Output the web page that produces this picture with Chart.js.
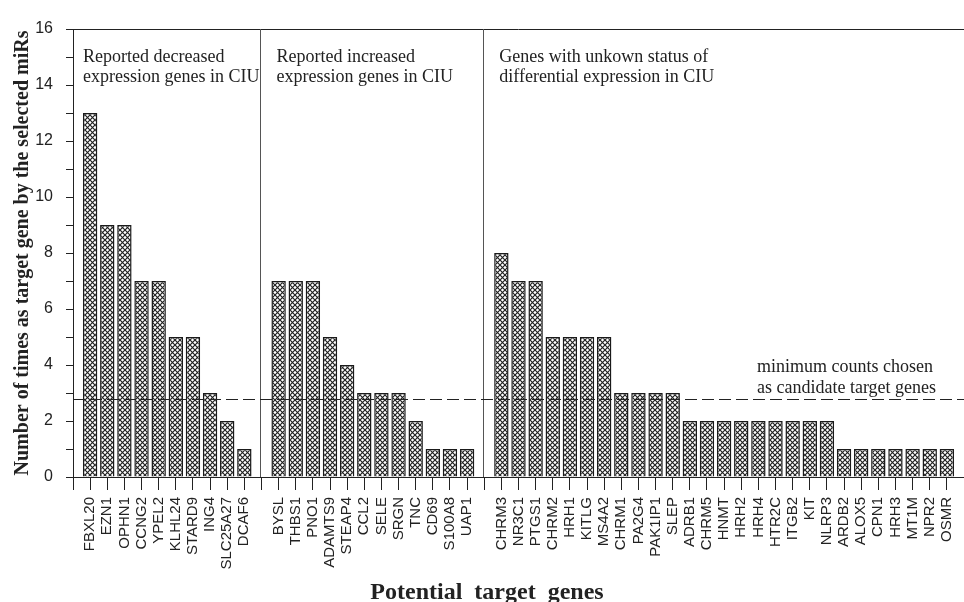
<!DOCTYPE html>
<html lang="en">
<head>
	<meta charset="UTF-8">
	<title>Potential target genes</title>
	<style>
		body { margin: 0; background: #fff; }
	</style>
</head>
<body>
	<canvas id="myChart" width="964" height="602"></canvas>

	<script src="https://cdn.jsdelivr.net/npm/chart.js@4"></script>
	<script type="text/javascript">

		// genes and counts, per group
		var genesDecreased = ['FBXL20', 'EZN1', 'OPHN1', 'CCNG2', 'YPEL2', 'KLHL24', 'STARD9', 'ING4', 'SLC25A27', 'DCAF6'];
		var countsDecreased = [13, 9, 9, 7, 7, 5, 5, 3, 2, 1];

		var genesIncreased = ['BYSL', 'THBS1', 'PNO1', 'ADAMTS9', 'STEAP4', 'CCL2', 'SELE', 'SRGN', 'TNC', 'CD69', 'S100A8', 'UAP1'];
		var countsIncreased = [7, 7, 7, 5, 4, 3, 3, 3, 2, 1, 1, 1];

		var genesUnknown = ['CHRM3', 'NR3C1', 'PTGS1', 'CHRM2', 'HRH1', 'KITLG', 'MS4A2', 'CHRM1', 'PA2G4', 'PAK1IP1', 'SLEP',
			'ADRB1', 'CHRM5', 'HNMT', 'HRH2', 'HRH4', 'HTR2C', 'ITGB2', 'KIT', 'NLRP3',
			'ARDB2', 'ALOX5', 'CPN1', 'HRH3', 'MT1M', 'NPR2', 'OSMR'];
		var countsUnknown = [8, 7, 7, 5, 5, 5, 5, 3, 3, 3, 3, 2, 2, 2, 2, 2, 2, 2, 2, 2, 1, 1, 1, 1, 1, 1, 1];

		var groupNotes = [
			['Reported decreased', 'expression genes in CIU'],
			['Reported increased', 'expression genes in CIU'],
			['Genes with unkown status of', 'differential expression in CIU']
		];
		var cutoff = 2.8;
		var cutoffNote = ['minimum counts chosen', 'as candidate target genes'];
		var yMax = 16;

		// empty slots separate the groups
		var labels = [''].concat(genesDecreased, [''], genesIncreased, [''], genesUnknown, ['']);
		var values = [null].concat(countsDecreased, [null], countsIncreased, [null], countsUnknown, [null]);
		var sep1 = genesDecreased.length + 1;
		var sep2 = sep1 + genesIncreased.length + 1;
		var groupStart = [0, sep1, sep2];

		// crosshatch fill
		var pc = document.createElement('canvas');
		pc.width = 5; pc.height = 5;
		var p = pc.getContext('2d');
		p.fillStyle = '#fff';
		p.fillRect(0, 0, 5, 5);
		p.strokeStyle = '#222';
		p.lineWidth = 1.2;
		p.beginPath();
		p.moveTo(0, 0); p.lineTo(5, 5);
		p.moveTo(5, 0); p.lineTo(0, 5);
		p.stroke();
		var ctx = document.getElementById('myChart').getContext('2d');
		var hatch = ctx.createPattern(pc, 'repeat');

		var ink = '#222';

		var extras = {
			id: 'extras',
			afterDatasetsDraw: function(chart) {
				var c = chart.ctx, a = chart.chartArea;
				var x = chart.scales.x, y = chart.scales.y;
				c.save();
				// top frame
				c.strokeStyle = ink;
				c.lineWidth = 1;
				c.beginPath();
				c.moveTo(a.left, a.top + 0.5);
				c.lineTo(a.right, a.top + 0.5);
				c.stroke();
				// group separators
				c.strokeStyle = '#555';
				[sep1, sep2].forEach(function(i) {
					var px = Math.round(x.getPixelForValue(i)) - 0.5;
					c.beginPath();
					c.moveTo(px, a.top);
					c.lineTo(px, a.bottom);
					c.stroke();
				});
				// cutoff line
				var cy = Math.round(y.getPixelForValue(cutoff)) + 0.5;
				c.strokeStyle = ink;
				c.setLineDash([12, 5]);
				c.beginPath();
				c.moveTo(a.left, cy);
				c.lineTo(a.right, cy);
				c.stroke();
				c.setLineDash([]);
				// notes
				c.fillStyle = ink;
				c.font = '18px "Liberation Serif"';
				c.textAlign = 'left';
				c.textBaseline = 'alphabetic';
				groupNotes.forEach(function(lines, g) {
					var lx = x.getPixelForValue(groupStart[g]) + (g === 0 ? 10 : 15);
					c.fillText(lines[0], lx, 62);
					c.fillText(lines[1], lx, 82);
				});
				c.fillText(cutoffNote[0], 757, 372);
				c.fillText(cutoffNote[1], 757, 393);
				// x title
				c.font = 'bold 24px "Liberation Serif"';
				c.textAlign = 'center';
				c.fillText('Potential  target  genes', 487, 599);
				c.restore();
			}
		};

		var myChart = new Chart(ctx, {
			type: 'bar',
			data: {
				labels: labels,
				datasets: [{
					data: values,
					backgroundColor: hatch,
					borderColor: '#1a1a1a',
					borderWidth: 1.5,
					categoryPercentage: 1,
					barPercentage: 0.84
				}]
			},
			options: {
				responsive: false,
				animation: false,
				layout: { padding: { top: 29, right: 0, left: 0, bottom: 0 } },
				plugins: { legend: { display: false }, tooltip: { enabled: false } },
				scales: {
					x: {
						offset: false,
						afterFit: function(s) {
							s.height = 125;
							s.paddingLeft = 0;
							s.paddingRight = 0;
						},
						border: { display: true, color: ink, width: 1 },
						grid: {
							offset: false,
							drawOnChartArea: false,
							tickLength: 13,
							tickColor: function(c) { return c.index === labels.length - 1 ? 'rgba(0,0,0,0)' : ink; }
						},
						ticks: {
							autoSkip: false,
							minRotation: 90,
							maxRotation: 90,
							padding: 7,
							color: ink,
							font: { family: 'Liberation Sans', size: 15 }
						}
					},
					y: {
						min: 0,
						max: yMax,
						afterFit: function(s) { s.width = 73; },
						border: { display: true, color: ink, width: 1 },
						grid: { drawOnChartArea: false, tickLength: 7, tickColor: ink },
						ticks: {
							stepSize: 1,
							padding: 13,
							color: ink,
							font: { family: 'Liberation Sans', size: 16 },
							callback: function(v) { return v % 2 === 0 ? v : ''; }
						},
						title: {
							display: true,
							text: 'Number of times as target gene by the selected miRs',
							color: ink,
							font: { family: 'Liberation Serif', size: 20, weight: 'bold' },
							padding: { top: 11, bottom: 0 }
						}
					}
				}
			},
			plugins: [extras]
		});
	</script>
</body>
</html>
